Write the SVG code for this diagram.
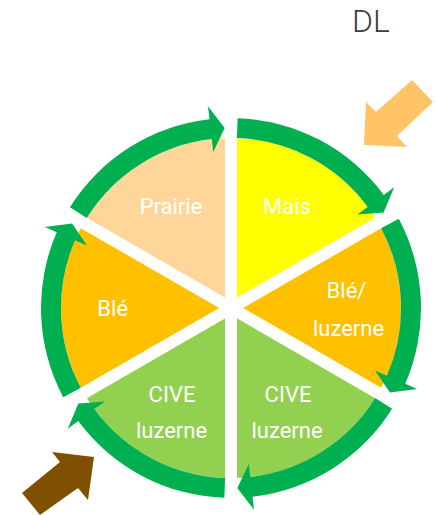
<svg xmlns="http://www.w3.org/2000/svg" xmlns:xlink="http://www.w3.org/1999/xlink" width="436" height="515" viewBox="0 0 436 515">
  <style>
    .label { font-family: Roboto, "Liberation Sans", sans-serif; font-size: 22px; fill: #FFFFFF; text-anchor: middle; }
    .title { font-family: Roboto, "Liberation Sans", sans-serif; font-weight: 300; font-size: 32px; fill: #404040; text-anchor: middle; }
    .gap { stroke: #FFFFFF; stroke-width: 12; }
    .cycle { fill: #00B050; }
  </style>
  <defs>
    <!-- one 60-degree pie slice, centred on the origin, spanning 150deg to 90deg -->
    <path id="slice" d="M0,0 L-147.2,-85 A170,170 0 0 1 0,-170 Z"/>
    <!-- one curved ring arrow over a slice, running clockwise, head at the end -->
    <path id="ringArrow" d="M-161.1,-100.7 A190,190 0 0 1 -21.5,-188.8 L-23.0,-201.7 L-6.3,-179.9 L-17.8,-156.0 L-19.2,-168.9 A170,170 0 0 0 -144.2,-90.1 Z"/>
  </defs>

  <rect width="436" height="515" fill="#FFFFFF"/>

  <g id="prairie">
    <use xlink:href="#slice" transform="translate(231 308)" fill="#FED699"/>
    <text class="label" x="171" y="214">Prairie</text>
  </g>
  <g id="mais">
    <use xlink:href="#slice" transform="translate(231 308) rotate(60)" fill="#FFFF00"/>
    <text class="label" x="287" y="214">Mais</text>
  </g>
  <g id="ble-luzerne">
    <use xlink:href="#slice" transform="translate(231 308) rotate(120)" fill="#FFC000"/>
    <text class="label" x="346.5" y="298">Blé/</text>
    <text class="label" x="348.5" y="336">luzerne</text>
  </g>
  <g id="cive-luzerne-right">
    <use xlink:href="#slice" transform="translate(231 308) rotate(180)" fill="#92D050"/>
    <text class="label" x="288" y="402">CIVE</text>
    <text class="label" x="287" y="438">luzerne</text>
  </g>
  <g id="cive-luzerne-left">
    <use xlink:href="#slice" transform="translate(231 308) rotate(240)" fill="#92D050"/>
    <text class="label" x="172" y="402">CIVE</text>
    <text class="label" x="171.5" y="438">luzerne</text>
  </g>
  <g id="ble">
    <use xlink:href="#slice" transform="translate(231 308) rotate(300)" fill="#FFC000"/>
    <text class="label" x="112.7" y="316">Blé</text>
  </g>

  <!-- white separators between the slices -->
  <g id="separators" transform="translate(231 308)">
    <line class="gap" x1="0" y1="-172" x2="0" y2="172"/>
    <line class="gap" x1="148.9" y1="-86" x2="-148.9" y2="86"/>
    <line class="gap" x1="-148.9" y1="-86" x2="148.9" y2="86"/>
  </g>

  <!-- rotation cycle: six clockwise arrows round the pie -->
  <g id="connectors">
    <use class="cycle" xlink:href="#ringArrow" transform="translate(231 308)"/>
    <use class="cycle" xlink:href="#ringArrow" transform="translate(231 308) rotate(60)"/>
    <use class="cycle" xlink:href="#ringArrow" transform="translate(231 308) rotate(120)"/>
    <use class="cycle" xlink:href="#ringArrow" transform="translate(231 308) rotate(180)"/>
    <use class="cycle" xlink:href="#ringArrow" transform="translate(231 308) rotate(240)"/>
    <use class="cycle" xlink:href="#ringArrow" transform="translate(231 308) rotate(300)"/>
  </g>

  <!-- block arrows pointing into the cycle -->
  <g id="input-arrows">
    <polygon fill="#FFC466" points="412,80 433,102 397,136 407,147 364,145 366,102 376,112"/>
    <polygon fill="#7F5000" points="52,452 94,457 88,500 78,488 40,515 22,493 60,462"/>
  </g>

  <g id="dl">
    <text class="title" x="371" y="32">DL</text>
  </g>
</svg>
